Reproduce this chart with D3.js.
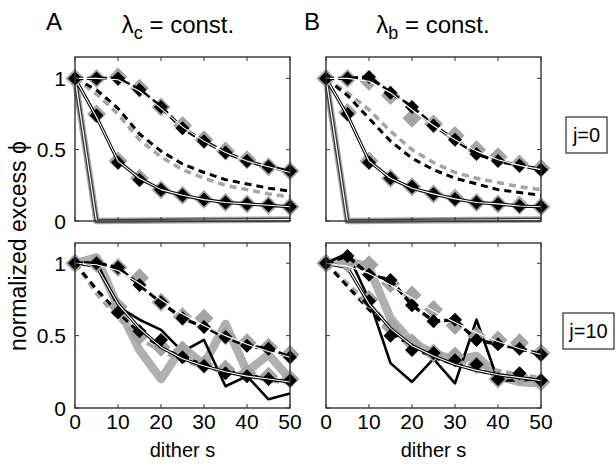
<!DOCTYPE html>
<html>
<head>
<meta charset="utf-8">
<script src="https://cdn.jsdelivr.net/npm/d3@7"></script>
<style>
body { margin: 0; background: #fff; }
text { font-family: "Liberation Sans", Arial, sans-serif; fill: #000; }
</style>
</head>
<body>
<div id="chart"></div>
<script>
// dither values (x) shared by all series
const dither = [0, 5, 10, 15, 20, 25, 30, 35, 40, 45, 50];
const steepX = [0, 5, 50];
const steepY = [1, 0, 0.01];
const xTicks = [0, 10, 20, 30, 40, 50];
const yTicks = [0, 0.5, 1];
const yTickLabels = ["0", "0.5", "1"];
const panelTitles = ["\u03bb", "\u03bb"];
const titleSubs = ["c", "b"];
const panelLetters = ["A", "B"];
const rowLabels = ["j=0", "j=10"];

// A, j=0
const a0Upper     = [1, 1, 1, 0.92, 0.8, 0.65, 0.56, 0.48, 0.42, 0.38, 0.35];
const a0UpperGray = [1, 1, 1.01, 0.93, 0.8, 0.67, 0.57, 0.49, 0.43, 0.38, 0.35];
const a0UpperFit  = [1, 1, 0.99, 0.91, 0.79, 0.66, 0.56, 0.48, 0.42, 0.38, 0.34];
const a0Lower     = [1, 0.74, 0.41, 0.29, 0.22, 0.18, 0.15, 0.13, 0.12, 0.11, 0.1];
const a0LowerGray = [1, 0.75, 0.42, 0.3, 0.22, 0.18, 0.15, 0.13, 0.12, 0.11, 0.1];
const a0LowerFit  = [1, 0.73, 0.42, 0.3, 0.22, 0.18, 0.15, 0.13, 0.12, 0.11, 0.1];
const a0MidBlack  = [1, 0.92, 0.79, 0.61, 0.49, 0.4, 0.34, 0.29, 0.26, 0.23, 0.21];
const a0MidGray   = [1, 0.89, 0.75, 0.57, 0.45, 0.36, 0.3, 0.25, 0.22, 0.19, 0.17];

// B, j=0
const b0Upper     = [1, 1, 1.01, 0.9, 0.8, 0.67, 0.57, 0.47, 0.42, 0.39, 0.36];
const b0UpperGray = [1, 1, 0.98, 0.88, 0.72, 0.68, 0.6, 0.5, 0.45, 0.4, 0.37];
const b0UpperFit  = [1, 1, 0.98, 0.9, 0.78, 0.67, 0.57, 0.49, 0.43, 0.39, 0.36];
const b0Lower     = [1, 0.75, 0.41, 0.3, 0.24, 0.19, 0.155, 0.13, 0.12, 0.105, 0.1];
const b0LowerGray = [1, 0.76, 0.42, 0.3, 0.24, 0.19, 0.16, 0.13, 0.12, 0.11, 0.1];
const b0LowerFit  = [1, 0.74, 0.42, 0.3, 0.23, 0.19, 0.155, 0.13, 0.12, 0.105, 0.1];
const b0MidBlack  = [1, 0.88, 0.72, 0.56, 0.44, 0.36, 0.3, 0.26, 0.22, 0.2, 0.18];
const b0MidGray   = [1, 0.9, 0.78, 0.63, 0.5, 0.41, 0.34, 0.3, 0.27, 0.24, 0.22];

// A, j=10
const a10Upper     = [1, 1, 0.97, 0.85, 0.73, 0.62, 0.56, 0.49, 0.43, 0.41, 0.35];
const a10UpperGray = [1, 1, 0.97, 0.9, 0.73, 0.63, 0.62, 0.5, 0.45, 0.42, 0.37];
const a10UpperFit  = [1, 0.99, 0.95, 0.86, 0.75, 0.65, 0.57, 0.5, 0.44, 0.39, 0.35];
const a10Lower     = [1, 0.99, 0.66, 0.53, 0.47, 0.35, 0.29, 0.24, 0.22, 0.2, 0.19];
const a10LowerGray = [1, 1, 0.7, 0.5, 0.42, 0.4, 0.3, 0.27, 0.24, 0.22, 0.2];
const a10LowerFit  = [1, 0.98, 0.72, 0.55, 0.42, 0.34, 0.29, 0.25, 0.22, 0.2, 0.18];
const a10MidBlack  = [1, 0.82, 0.66, 0.52, 0.42, 0.35, 0.3, 0.26, 0.23, 0.2, 0.18];
const a10MidGray   = [1, 0.79, 0.62, 0.48, 0.39, 0.33, 0.28, 0.25, 0.22, 0.19, 0.17];
const a10NoisyBlack = [1, 1.01, 0.7, 0.61, 0.54, 0.39, 0.47, 0.15, 0.22, 0.06, 0.1];
const a10NoisyGray  = [1, 1.04, 0.7, 0.4, 0.2, 0.42, 0.3, 0.58, 0.25, 0.37, 0.2];

// B, j=10
const b10Upper     = [1, 1.05, 0.92, 0.885, 0.71, 0.6, 0.61, 0.47, 0.44, 0.41, 0.37];
const b10UpperGray = [1, 1, 0.99, 0.86, 0.78, 0.68, 0.57, 0.5, 0.47, 0.45, 0.38];
const b10UpperFit  = [1, 0.98, 0.93, 0.85, 0.76, 0.67, 0.59, 0.52, 0.46, 0.41, 0.37];
const b10Lower     = [1, 1, 0.74, 0.5, 0.4, 0.38, 0.33, 0.3, 0.2, 0.24, 0.19];
const b10LowerGray = [1, 1, 0.75, 0.56, 0.45, 0.38, 0.36, 0.3, 0.2, 0.22, 0.18];
const b10LowerFit  = [1, 0.97, 0.72, 0.55, 0.43, 0.36, 0.3, 0.26, 0.23, 0.21, 0.19];
const b10MidBlack  = [1, 0.84, 0.68, 0.53, 0.42, 0.35, 0.3, 0.26, 0.23, 0.21, 0.19];
const b10MidGray   = [1, 0.86, 0.72, 0.57, 0.46, 0.38, 0.33, 0.29, 0.26, 0.23, 0.21];
const b10NoisyBlack = [1, 1.07, 0.75, 0.31, 0.18, 0.34, 0.17, 0.61, 0.19, 0.19, 0.2];
const b10NoisyGray  = [1, 1.02, 0.97, 0.62, 0.45, 0.38, 0.33, 0.36, 0.22, 0.18, 0.17];

const gray = "#a4a4a4";

// panel layout
const cols = [{ left: 75, right: 290 }, { left: 326, right: 541 }];
const rows = [{ top: 57, bottom: 221, ymax: 1.15 }, { top: 243, bottom: 408, ymax: 1.14 }];

const svg = d3.select("#chart").append("svg")
    .attr("width", 616)
    .attr("height", 470);

function pts(ys, xs) {
    xs = xs || dither;
    return ys.map((v, i) => [xs[i], v]);
}

function diamond(r) {
    return "M0," + (-r) + "L" + r + ",0L0," + r + "L" + (-r) + ",0Z";
}

function drawPanel(col, row, s) {
    const x = d3.scaleLinear().domain([0, 50]).range([cols[col].left, cols[col].right]);
    const y = d3.scaleLinear().domain([0, rows[row].ymax]).range([rows[row].bottom, rows[row].top]);
    const line = d3.line().x(d => x(d[0])).y(d => y(d[1]));
    const g = svg.append("g");

    function path(data, stroke, w, dash) {
        g.append("path")
            .attr("d", line(data))
            .attr("fill", "none")
            .attr("stroke", stroke)
            .attr("stroke-width", w)
            .attr("stroke-linejoin", "round")
            .attr("stroke-dasharray", dash || null);
    }
    function marks(data, fill, r) {
        g.selectAll(null).data(data).enter().append("path")
            .attr("d", diamond(r))
            .attr("transform", d => "translate(" + x(d[0]) + "," + y(d[1]) + ")")
            .attr("fill", fill);
    }

    // steep decay / noisy curves
    if (s.steep) {
        path(pts(steepY, steepX), gray, 6.5);
        path(pts(steepY, steepX), "#333", 3.6);
        path(pts(steepY, steepX), "#fff", 1.2);
    }
    if (s.noisyGray) path(pts(s.noisyGray), "#b0b0b0", 8.5);
    if (s.noisyBlack) path(pts(s.noisyBlack), "#000", 2.6);

    // middle dashed pair
    path(pts(s.midGray), gray, 3.5, "7,5");
    path(pts(s.midBlack), "#000", 3, "7,5");

    // lower series with diamonds and solid fit
    marks(pts(s.lowerGray), gray, 9.5);
    marks(pts(s.lower), "#000", 7);
    path(pts(s.lowerFit), "#000", 3.2);
    path(pts(s.lowerFit), "#fff", 1.1);

    // upper series with diamonds and dashed line
    marks(pts(s.upperGray), gray, 9.5);
    marks(pts(s.upper), "#000", 7);
    path(pts(s.upper), "#000", 3.4, "8,4");
    path(pts(s.upperFit), "#fff", 1.1);

    // frame and inside ticks
    g.append("rect")
        .attr("x", cols[col].left).attr("y", rows[row].top)
        .attr("width", cols[col].right - cols[col].left)
        .attr("height", rows[row].bottom - rows[row].top)
        .attr("fill", "none").attr("stroke", "#333").attr("stroke-width", 1.4);
    xTicks.forEach(t => {
        g.append("line").attr("x1", x(t)).attr("x2", x(t))
            .attr("y1", rows[row].bottom).attr("y2", rows[row].bottom - 4)
            .attr("stroke", "#333");
        g.append("line").attr("x1", x(t)).attr("x2", x(t))
            .attr("y1", rows[row].top).attr("y2", rows[row].top + 4)
            .attr("stroke", "#333");
    });
    yTicks.forEach(t => {
        g.append("line").attr("x1", cols[col].left).attr("x2", cols[col].left + 4)
            .attr("y1", y(t)).attr("y2", y(t)).attr("stroke", "#333");
        g.append("line").attr("x1", cols[col].right).attr("x2", cols[col].right - 4)
            .attr("y1", y(t)).attr("y2", y(t)).attr("stroke", "#333");
    });

    // tick labels
    if (col === 0) {
        yTicks.forEach((t, i) => {
            svg.append("text").attr("x", cols[col].left - 9).attr("y", y(t))
                .attr("dy", "0.36em").attr("text-anchor", "end")
                .style("font-size", "21px").text(yTickLabels[i]);
        });
    }
    if (row === 1) {
        xTicks.forEach(t => {
            svg.append("text").attr("x", x(t)).attr("y", rows[row].bottom + 21)
                .attr("text-anchor", "middle")
                .style("font-size", "21px").text(t);
        });
        svg.append("text").attr("x", (cols[col].left + cols[col].right) / 2).attr("y", 457)
            .attr("text-anchor", "middle")
            .style("font-size", "20px").text("dither s");
    }
}

drawPanel(0, 0, { steep: true, upper: a0Upper, upperGray: a0UpperGray, upperFit: a0UpperFit,
    lower: a0Lower, lowerGray: a0LowerGray, lowerFit: a0LowerFit, midBlack: a0MidBlack, midGray: a0MidGray });
drawPanel(1, 0, { steep: true, upper: b0Upper, upperGray: b0UpperGray, upperFit: b0UpperFit,
    lower: b0Lower, lowerGray: b0LowerGray, lowerFit: b0LowerFit, midBlack: b0MidBlack, midGray: b0MidGray });
drawPanel(0, 1, { upper: a10Upper, upperGray: a10UpperGray, upperFit: a10UpperFit,
    lower: a10Lower, lowerGray: a10LowerGray, lowerFit: a10LowerFit, midBlack: a10MidBlack, midGray: a10MidGray,
    noisyBlack: a10NoisyBlack, noisyGray: a10NoisyGray });
drawPanel(1, 1, { upper: b10Upper, upperGray: b10UpperGray, upperFit: b10UpperFit,
    lower: b10Lower, lowerGray: b10LowerGray, lowerFit: b10LowerFit, midBlack: b10MidBlack, midGray: b10MidGray,
    noisyBlack: b10NoisyBlack, noisyGray: b10NoisyGray });

// panel letters and titles
[46, 304].forEach((px, i) => {
    svg.append("text").attr("x", px).attr("y", 30)
        .style("font-size", "24px").text(panelLetters[i]);
});
[178, 433].forEach((cx, i) => {
    const t = svg.append("text").attr("x", cx).attr("y", 33)
        .attr("text-anchor", "middle").style("font-size", "24px");
    t.append("tspan").text(panelTitles[i]);
    t.append("tspan").attr("dy", 6).style("font-size", "18px").text(titleSubs[i]);
    t.append("tspan").attr("dy", -6).text(" = const.");
});

// y label
svg.append("text")
    .attr("transform", "translate(26,246) rotate(-90)")
    .attr("text-anchor", "middle")
    .style("font-size", "23px")
    .text("normalized excess \u03d5");

// row labels in boxes
const boxes = [{ x: 566, y: 117, w: 41, h: 36 }, { x: 563, y: 313, w: 51, h: 36 }];
boxes.forEach((b, i) => {
    svg.append("rect").attr("x", b.x).attr("y", b.y).attr("width", b.w).attr("height", b.h)
        .attr("fill", "#fff").attr("stroke", "#000").attr("stroke-width", 1);
    svg.append("text").attr("x", b.x + b.w / 2).attr("y", b.y + b.h / 2)
        .attr("dy", "0.36em").attr("text-anchor", "middle")
        .style("font-size", "20px").text(rowLabels[i]);
});
</script>
</body>
</html>
